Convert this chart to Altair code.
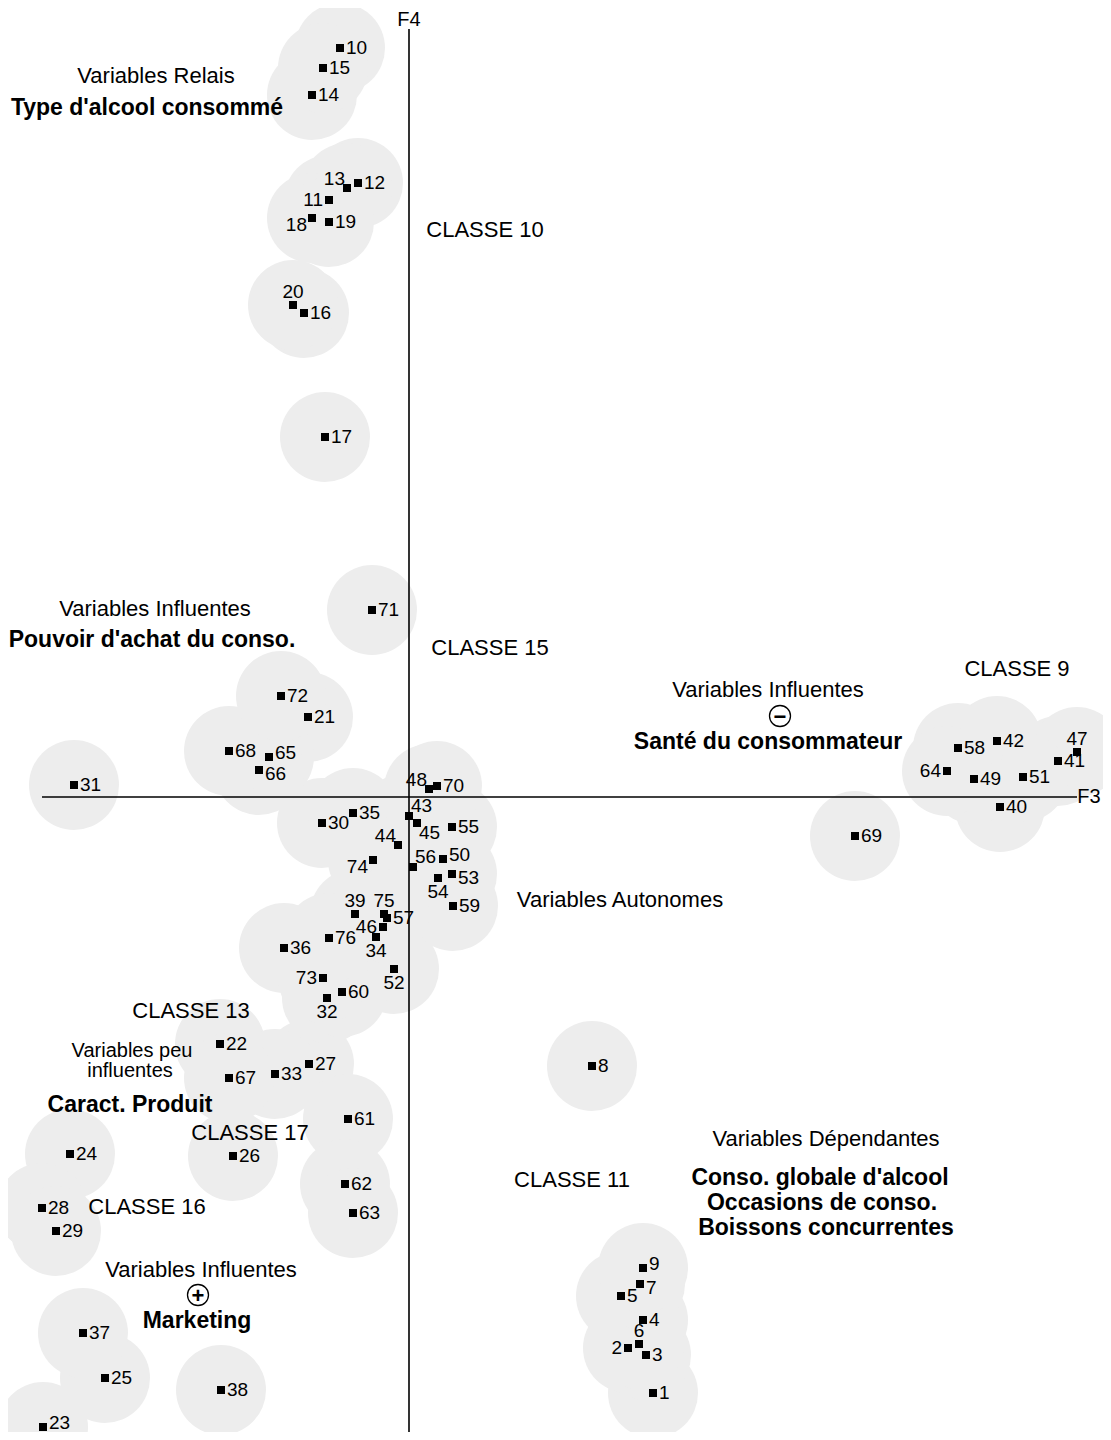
import altair as alt
import pandas as pd

# ---- point data (F3 horizontal, F4 vertical) ----
ids = list(range(1, 77))
f3 = [2.44, 2.19, 2.37, 2.34, 2.12, 2.30, 2.31, 1.83, 2.34,
      -0.69, -0.80, -0.51, -0.62, -0.97, -0.86, -1.05, -0.84, -0.97, -0.80, -1.16,
      -1.01, -1.89, -3.66, -3.39, -3.04, -1.76, -1.00, -3.67, -3.53,
      -0.87, -3.35, -0.82, -1.34, -0.33, -0.56, -1.25, -3.26, -1.88, -0.54,
      5.91, 6.49, 5.88, 0.00, -0.11, 0.08, -0.26, 6.68, 0.20, 5.65,
      0.34, 6.14, -0.15, 0.43, 0.29, 0.43, 0.04, -0.22, 5.49, 0.44,
      -0.67, -0.61, -0.64, -0.56, 5.38, -1.40, -1.50, -1.80, -1.80, 4.46,
      0.28, -0.37, -1.28, -0.86, -0.36, -0.25, -0.80]
f4 = [-5.96, -5.51, -5.58, -5.23, -4.99, -5.47, -4.87, -2.69, -4.71,
      7.49, 5.97, 6.14, 6.09, 7.02, 7.29, 4.84, 3.60, 5.79, 5.75, 4.92,
      0.80, -2.47, -6.30, -3.57, -5.81, -3.59, -2.67, -4.11, -4.34,
      -0.26, 0.12, -2.01, -2.77, -1.40, -0.16, -1.51, -5.36, -5.93, -1.17,
      -0.10, 0.36, 0.56, -0.19, -0.48, -0.26, -1.30, 0.45, 0.08, 0.18,
      -0.62, 0.20, -1.72, -0.77, -0.81, -0.30, -0.70, -1.21, 0.49, -1.09,
      -1.95, -3.22, -3.87, -4.16, 0.26, 0.40, 0.27, -2.81, 0.46, -0.39,
      0.11, 1.87, 1.01, -1.81, -0.63, -1.17, -1.41]

# label placement relative to its square (r = right by default)
label_pos = {2: "l", 6: "a", 7: "rd", 9: "ru", 11: "l", 13: "al", 18: "bl", 20: "a",
             23: "ru", 32: "b", 34: "b", 39: "a", 43: "ar", 44: "al", 45: "br", 46: "l",
             47: "a", 48: "al", 50: "ru", 52: "b", 53: "rd", 54: "b", 56: "ar", 64: "l",
             65: "ru", 66: "rd", 73: "l", 74: "bl", 75: "a"}
pos = [label_pos.get(i, "r") for i in ids]

# ---- annotations ----
ann_text = ["Variables Relais", "Type d'alcool consommé", "CLASSE 10",
            "Variables Influentes", "Pouvoir d'achat du conso.", "CLASSE 15",
            "Variables Influentes", "Santé du consommateur", "CLASSE 9",
            "Variables Autonomes", "CLASSE 13", "Variables peu", "influentes",
            "Caract. Produit", "CLASSE 17", "Variables Dépendantes",
            "Conso. globale d'alcool", "Occasions de conso.", "Boissons concurrentes",
            "CLASSE 11", "CLASSE 16", "Variables Influentes", "Marketing",
            "F4", "F3"]
ann_x = [-2.53, -2.62, 0.76, -2.54, -2.57, 0.81, 3.59, 3.59, 6.08,
         2.11, -2.18, -2.77, -2.79, -2.79, -1.59, 4.17,
         4.11, 4.13, 4.17, 1.63, -2.62, -2.08, -2.12, 0.00, 6.80]
ann_y = [7.21, 6.89, 5.67, 1.88, 1.57, 1.49, 1.07, 0.55, 1.28,
         -1.03, -2.14, -2.54, -2.74, -3.08, -3.36, -3.42,
         -3.81, -4.06, -4.31, -3.83, -4.10, -4.73, -5.24, 7.77, 0.00]
# n = normal, b = bold, s = smaller normal
ann_style = ["n", "b", "n", "n", "b", "n", "n", "b", "n",
             "n", "n", "s", "s", "b", "n", "n",
             "b", "b", "b", "n", "n", "n", "b", "s", "s"]

sign_text = ["−", "+"]
sign_x = [3.71, -2.11]
sign_y = [0.81, -4.98]

# axis extents
axis_f3 = [-3.67, 6.68]
axis_f4 = [-6.38, 7.68]

X_DOM = [-4.01, 6.94]
Y_DOM = [-6.35, 7.89]
W, H = 1095, 1424
FONT = "Liberation Sans"

pts = pd.DataFrame({"id": ids, "F3": f3, "F4": f4, "pos": pos})
pts["label"] = pts["id"].astype(str)
ann = pd.DataFrame({"text": ann_text, "x": ann_x, "y": ann_y, "style": ann_style})
signs = pd.DataFrame({"s": sign_text, "x": sign_x, "y": sign_y})
axes_df = pd.DataFrame({"x": [axis_f3[0], 0.0], "x2": [axis_f3[1], 0.0],
                        "y": [0.0, axis_f4[0]], "y2": [0.0, axis_f4[1]]})

xs = alt.Scale(domain=X_DOM, nice=False, zero=False)
ys = alt.Scale(domain=Y_DOM, nice=False, zero=False)
X = alt.X("F3:Q", scale=xs, axis=None)
Y = alt.Y("F4:Q", scale=ys, axis=None)
AX = alt.X("x:Q", scale=xs, axis=None)
AY = alt.Y("y:Q", scale=ys, axis=None)

base = alt.Chart(pts)

halo = base.mark_circle(size=8100, color="#ededed", opacity=1).encode(x=X, y=Y)

axes = alt.Chart(axes_df).mark_rule(color="black", strokeWidth=1.6).encode(
    x=AX, x2="x2:Q", y=AY, y2="y2:Q")

squares = base.mark_square(size=64, color="black", opacity=1).encode(x=X, y=Y)

offsets = {"r": (6, 0, "left"), "l": (-6, 0, "right"), "a": (0, -13, "center"),
           "b": (0, 14, "center"), "al": (-2, -9, "right"), "ar": (2, -10, "left"),
           "bl": (-5, 7, "right"), "br": (2, 10, "left"), "ru": (6, -4, "left"),
           "rd": (6, 4, "left")}
label_layers = []
for key, (dx, dy, al) in offsets.items():
    label_layers.append(
        base.transform_filter(alt.datum.pos == key).mark_text(
            dx=dx, dy=dy, align=al, baseline="middle", font=FONT, fontSize=19,
            color="black").encode(x=X, y=Y, text="label:N"))

styles = {"n": (22, "normal"), "b": (23, "bold"), "s": (20, "normal")}
ann_layers = []
for key, (fs, fw) in styles.items():
    ann_layers.append(
        alt.Chart(ann).transform_filter(alt.datum.style == key).mark_text(
            font=FONT, fontSize=fs, fontWeight=fw, color="black", baseline="middle",
            align="center").encode(x=AX, y=AY, text="text:N"))

sign_circle = alt.Chart(signs).mark_point(shape="circle", size=441, filled=False,
                                          color="black", strokeWidth=1.3, opacity=1).encode(
    x=AX, y=AY)
sign_txt = alt.Chart(signs).mark_text(font=FONT, fontSize=22, fontWeight="bold",
                                      color="black", baseline="middle", align="center",
                                      dy=1).encode(x=AX, y=AY, text="s:N")

chart = alt.layer(halo, axes, squares, *label_layers, *ann_layers,
                  sign_circle, sign_txt).properties(
    width=W, height=H, padding=0, autosize=alt.AutoSizeParams(type="none"),
    background="white").configure_view(stroke=None)

chart.save("out.html", embed_options={"renderer": "svg", "actions": False})
